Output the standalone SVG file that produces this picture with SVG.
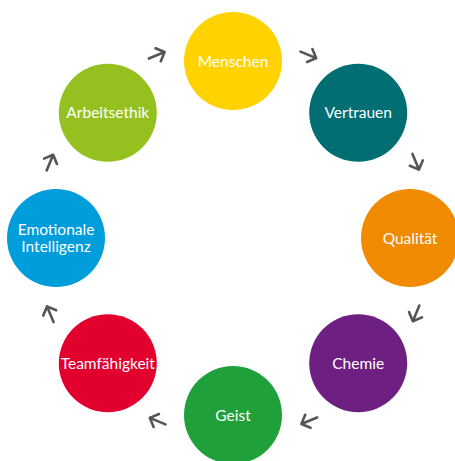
<svg xmlns="http://www.w3.org/2000/svg" xmlns:xlink="http://www.w3.org/1999/xlink" width="455" height="461" viewBox="0 0 455 461">
<style>
.n text{font-family:Lato,"Open Sans",sans-serif;font-size:15.5px;fill:#fff;text-anchor:middle}
.a{fill:none;stroke:#555;stroke-width:2.6;stroke-linecap:round;stroke-linejoin:round}
</style>
<defs>
<path id="arr" class="a" d="M-9,0 H8 M1,-7 L8,0 L1,7"/>
</defs>
<rect width="455" height="461" fill="#fff"/>
<g id="connectors">
<use xlink:href="#arr" transform="translate(157.2,55.1) rotate(-22.5)"/>
<use xlink:href="#arr" transform="translate(308.8,55.1) rotate(22.5)"/>
<use xlink:href="#arr" transform="translate(415.9,162.2) rotate(67.5)"/>
<use xlink:href="#arr" transform="translate(415.9,313.8) rotate(112.5)"/>
<use xlink:href="#arr" transform="translate(308.8,420.9) rotate(157.5)"/>
<use xlink:href="#arr" transform="translate(157.2,420.9) rotate(202.5)"/>
<use xlink:href="#arr" transform="translate(50.1,313.8) rotate(247.5)"/>
<use xlink:href="#arr" transform="translate(50.1,162.2) rotate(292.5)"/>
</g>
<g id="menschen" class="n"><circle cx="233" cy="61" r="49" fill="#FFD200"/><text x="233" y="66.5">Menschen</text></g>
<g id="vertrauen" class="n"><circle cx="358.2" cy="112.8" r="49" fill="#006E73"/><text x="358.2" y="118.3">Vertrauen</text></g>
<g id="qualitaet" class="n"><circle cx="410" cy="238" r="49" fill="#F08A00"/><text x="410" y="243.5">Qualität</text></g>
<g id="chemie" class="n"><circle cx="358.2" cy="363.2" r="49" fill="#6E2082"/><text x="358.2" y="368.7">Chemie</text></g>
<g id="geist" class="n"><circle cx="233" cy="415" r="49" fill="#1FA03A"/><text x="233" y="420.5">Geist</text></g>
<g id="teamfaehigkeit" class="n"><circle cx="107.8" cy="363.2" r="49" fill="#E2002F"/><text x="107.8" y="368.7">Teamfähigkeit</text></g>
<g id="emotionale-intelligenz" class="n"><circle cx="56" cy="238" r="49" fill="#009DDB"/><text x="56" y="235">Emotionale</text><text x="56" y="252">Intelligenz</text></g>
<g id="arbeitsethik" class="n"><circle cx="107.8" cy="112.8" r="49" fill="#94C11F"/><text x="107.8" y="118.3">Arbeitsethik</text></g>
</svg>
